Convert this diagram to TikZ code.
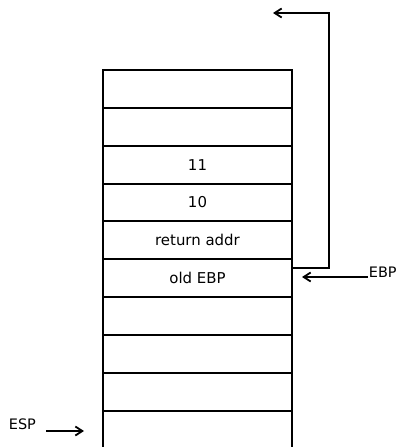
\documentclass[tikz,border=0pt]{standalone}
\usepackage{fontspec}
\setmainfont{DejaVu Sans}
\usetikzlibrary{arrows.meta}
\begin{document}
\begin{tikzpicture}[x=1bp,y=-1bp,
  line width=1.8bp,
  cell/.style={draw, minimum width=189bp, minimum height=38bp, inner sep=0pt,
    outer sep=0pt, font=\fontsize{15}{17}\selectfont},
  lbl/.style={inner sep=0pt, font=\fontsize{14.5}{16}\selectfont},
  ptr/.style={-{Straight Barb[length=7bp,width=9bp]}}]
\useasboundingbox (0,0) rectangle (399,447);
% stack frame cells, top to bottom (borders at y = 70,108,146,184,221,259,...)
\node[cell] (c1)  at (197.5, 89) {};
\node[cell] (c2)  at (197.5,127) {};
\node[cell] (c3)  at (197.5,165) {11};
\node[cell, minimum height=37bp] (c4) at (197.5,202.5) {10};
\node[cell] (c5)  at (197.5,240) {return addr};
\node[cell] (c6)  at (197.5,278) {old EBP};
\node[cell] (c7)  at (197.5,316) {};
\node[cell] (c8)  at (197.5,354) {};
\node[cell] (c9)  at (197.5,392) {};
\node[cell] (c10) at (197.5,430) {};
% saved frame pointer links to the caller's frame
\coordinate (up) at (273,13);
\draw[ptr] ([yshift=10bp]c6.east) -| (329,13) -- (up);
% register labels
\node[lbl, anchor=base west] (ebp) at (368,277) {EBP};
\draw[ptr] (ebp.base west) -- ([xshift=10bp]ebp.base west -| c6.east);
\node[lbl, anchor=base west] (esp) at (8,429) {ESP};
\coordinate (espend) at (84,431);
\draw[ptr] (46,431) -- (espend);
\end{tikzpicture}
\end{document}
